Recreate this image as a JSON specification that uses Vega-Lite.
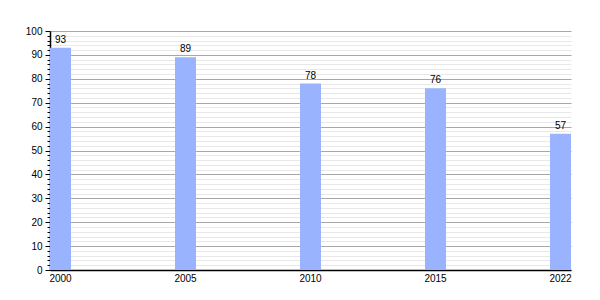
{
  "$schema": "https://vega.github.io/schema/vega-lite/v6.json",
  "autosize": "none",
  "width": 521,
  "height": 239,
  "padding": {"left": 50, "top": 31, "right": 29, "bottom": 30},
  "background": "white",
  "config": {
    "view": {"stroke": null},
    "font": "Liberation Sans",
    "axis": {"labelFont": "Liberation Sans", "labelFontSize": 10, "labelColor": "black"}
  },
  "data": {
    "values": [
      {"year": "2000", "value": 93},
      {"year": "2005", "value": 89},
      {"year": "2010", "value": 78},
      {"year": "2015", "value": 76},
      {"year": "2022", "value": 57}
    ]
  },
  "encoding": {
    "x": {
      "field": "year",
      "type": "ordinal",
      "scale": {"paddingInner": 0.832, "paddingOuter": 0},
      "axis": {"title": null, "labelAngle": 0, "ticks": false, "domainColor": "black", "domainWidth": 1.5, "labelPadding": 3, "grid": false}
    }
  },
  "layer": [
    {
      "mark": {"type": "bar", "color": "#99b3ff"},
      "encoding": {
        "y": {
          "field": "value",
          "type": "quantitative",
          "scale": {"domain": [0, 100], "nice": false},
          "axis": {
            "orient": "left",
            "title": null,
            "values": [2,4,6,8,12,14,16,18,22,24,26,28,32,34,36,38,42,44,46,48,52,54,56,58,62,64,66,68,72,74,76,78,82,84,86,88,92,94,96,98],
            "labels": false,
            "domain": false,
            "grid": true,
            "gridColor": "#e8e8e8",
            "gridWidth": 1,
            "tickSize": 3,
            "tickColor": "black"
          }
        }
      }
    },
    {
      "mark": {"type": "text", "baseline": "bottom", "dy": -3, "fontSize": 10, "color": "black"},
      "encoding": {
        "y": {
          "field": "value",
          "type": "quantitative",
          "scale": {"domain": [0, 100], "nice": false},
          "axis": {
            "orient": "left",
            "title": null,
            "values": [0,10,20,30,40,50,60,70,80,90,100],
            "domain": true,
            "domainColor": "black",
            "domainWidth": 1.5,
            "grid": true,
            "gridColor": "#a8a8a8",
            "gridWidth": 1,
            "tickSize": 5,
            "tickColor": "black",
            "labelPadding": 3
          }
        },
        "text": {"field": "value", "type": "quantitative"}
      }
    }
  ],
  "resolve": {"axis": {"y": "independent"}}
}
